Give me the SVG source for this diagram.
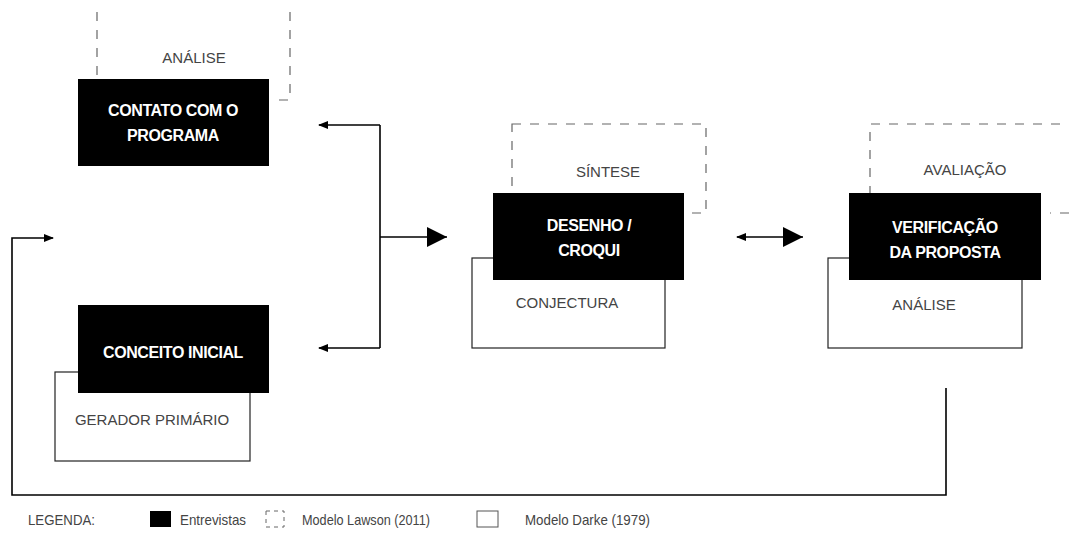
<svg xmlns="http://www.w3.org/2000/svg" width="1069" height="554" viewBox="0 0 1069 554">
<style>
.blk{fill:#000}
.wht{fill:#fff;stroke:#222;stroke-width:1.2}
.dsh{fill:none;stroke:#666;stroke-width:1.2;stroke-dasharray:9 9}
.bt{font-family:"Liberation Sans",Arial,sans-serif;font-weight:bold;font-size:16px;fill:#fff;text-anchor:middle;letter-spacing:-0.4px}
.lt{font-family:"Liberation Sans",Arial,sans-serif;font-size:15px;fill:#444;text-anchor:middle}
.lg{font-family:"Liberation Sans",Arial,sans-serif;font-size:15px;fill:#444}
.ln{fill:none;stroke:#000;stroke-width:1.6}
</style>
<defs>
<marker id="sm" viewBox="0 0 10 10" refX="9" refY="5" markerWidth="10" markerHeight="10" markerUnits="userSpaceOnUse" orient="auto-start-reverse"><path d="M0,1 L10,5 L0,9 Z" fill="#000"/></marker>
<marker id="lg" viewBox="0 0 20 20" refX="20" refY="10" markerWidth="20" markerHeight="22" markerUnits="userSpaceOnUse" orient="auto"><path d="M0,0 L20,10 L0,20 Z" fill="#000"/></marker>
</defs>
<g id="connectors">
<path class="ln" d="M380,125 V348" />
<path class="ln" d="M380,125 H319" marker-end="url(#sm)"/>
<path class="ln" d="M380,348 H319" marker-end="url(#sm)"/>
<path class="ln" d="M380,237 H447" marker-end="url(#lg)"/>
<path class="ln" d="M737,237 H803" marker-start="url(#sm)" marker-end="url(#lg)"/>
<path class="ln" d="M946,388 V495 H12 V238 H53" marker-end="url(#sm)"/>
</g>
<g id="node-contato">
<path class="dsh" d="M97,12 V100 M290,12 V100 H278"/>
<text class="lt" x="194" y="63">ANÁLISE</text>
<rect class="blk" x="78" y="79" width="191" height="87"/>
<text class="bt" x="173" y="116">CONTATO COM O</text>
<text class="bt" x="173" y="141">PROGRAMA</text>
</g>
<g id="node-conceito">
<rect class="wht" x="55" y="372" width="195" height="89"/>
<text class="lt" x="152" y="425">GERADOR PRIMÁRIO</text>
<rect class="blk" x="78" y="305" width="191" height="88"/>
<text class="bt" x="173" y="358">CONCEITO INICIAL</text>
</g>
<g id="node-desenho">
<rect class="dsh" x="512" y="124" width="194" height="89"/>
<text class="lt" x="608" y="177">SÍNTESE</text>
<rect class="wht" x="472" y="258" width="193" height="90"/>
<text class="lt" x="567" y="308">CONJECTURA</text>
<rect class="blk" x="493" y="193" width="191" height="87"/>
<text class="bt" x="589" y="231">DESENHO /</text>
<text class="bt" x="589" y="256">CROQUI</text>
</g>
<g id="node-verificacao">
<path class="dsh" d="M870,213 V124 H1069 M1069,213 H1050"/>
<text class="lt" x="965" y="175">AVALIAÇÃO</text>
<rect class="wht" x="828" y="258" width="194" height="90"/>
<text class="lt" x="924" y="310">ANÁLISE</text>
<rect class="blk" x="849" y="193" width="192" height="87"/>
<text class="bt" x="945" y="233">VERIFICAÇÃO</text>
<text class="bt" x="945" y="258">DA PROPOSTA</text>
</g>
<g id="legend">
<text class="lg" x="28" y="525" textLength="67" lengthAdjust="spacingAndGlyphs">LEGENDA:</text>
<rect x="150" y="511" width="21" height="16" fill="#000"/>
<text class="lg" x="180" y="525" textLength="66" lengthAdjust="spacingAndGlyphs">Entrevistas</text>
<rect x="266" y="511" width="18" height="16" fill="none" stroke="#666" stroke-width="1" stroke-dasharray="4 4"/>
<text class="lg" x="302" y="525" textLength="128" lengthAdjust="spacingAndGlyphs">Modelo Lawson (2011)</text>
<rect x="477" y="511" width="21" height="16" fill="none" stroke="#555" stroke-width="1"/>
<text class="lg" x="525" y="525" textLength="125" lengthAdjust="spacingAndGlyphs">Modelo Darke (1979)</text>
</g>
</svg>
